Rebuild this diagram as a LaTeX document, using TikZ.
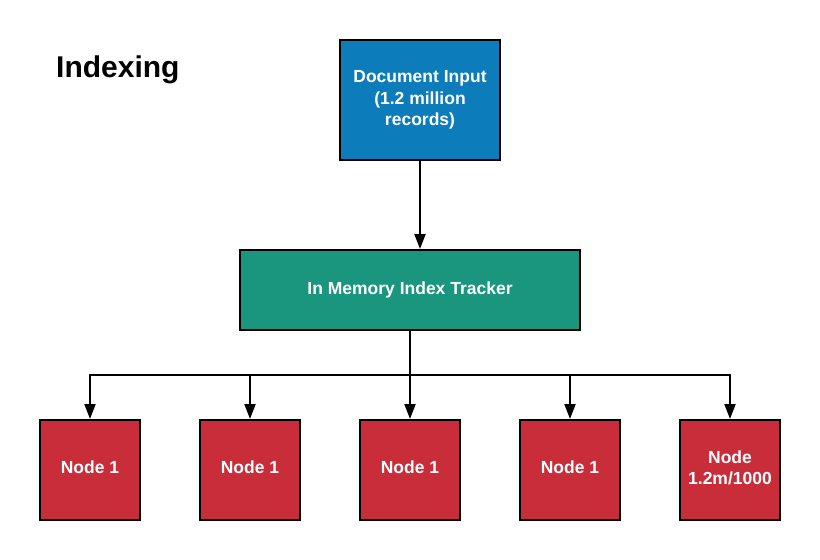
\documentclass[tikz,border=0pt]{standalone}
\usepackage{fontspec}
\setmainfont{Liberation Sans}
\usetikzlibrary{arrows.meta}
\definecolor{lblue}{HTML}{0C7CBA}
\definecolor{lgreen}{HTML}{19967D}
\definecolor{lred}{HTML}{C92D39}
\tikzset{
  box/.style={draw=black, line width=2pt, rectangle, inner sep=0pt, text=white,
    align=center, font=\bfseries\fontsize{17.5}{21.5}\selectfont},
  topbox/.style={box, fill=lblue, minimum width=160pt, minimum height=120pt},
  midbox/.style={box, fill=lgreen, minimum width=340pt, minimum height=80pt},
  leaf/.style={box, fill=lred, minimum width=100pt, minimum height=100pt, text depth=5pt},
  conn/.style={line width=2pt, draw=black},
  arr/.style={conn, -{Triangle[width=11pt,length=15pt]}}
}
\begin{document}
\begin{tikzpicture}[x=1pt,y=-1pt]
\useasboundingbox (0,0) rectangle (820,560);
\node[anchor=base west, inner sep=0pt, font=\bfseries\fontsize{30}{36}\selectfont] (title) at (56,77) {Indexing};
\node[topbox] (doc) at (420,100) {Document Input\\(1.2 million\\records)};
\node[midbox] (mem) at (410,290) {In Memory Index Tracker};
\node[leaf] (n1) at (90,470) {Node 1};
\node[leaf] (n2) at (250,470) {Node 1};
\node[leaf] (n3) at (410,470) {Node 1};
\node[leaf] (n4) at (570,470) {Node 1};
\node[leaf, text depth=5pt] (n5) at (730,470) {Node\\1.2m/1000};
\coordinate (bus) at (410,375);
\draw[arr] (doc.south) -- (doc.south |- mem.north);
\draw[conn] (mem.south) -- (bus);
\foreach \n in {n1,n2,n3,n4,n5} {
  \draw[arr] (bus) -| (\n.north);
}
\end{tikzpicture}
\end{document}
